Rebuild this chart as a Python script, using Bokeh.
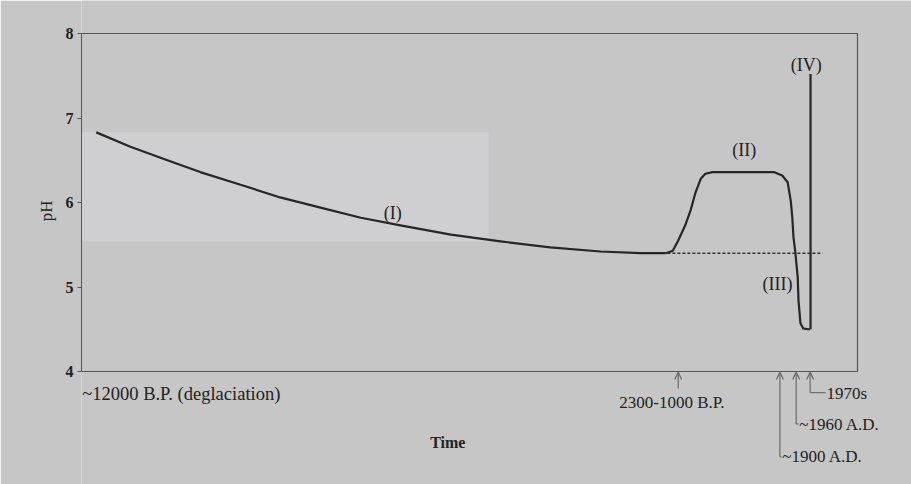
from bokeh.plotting import figure
from bokeh.models import Range1d, Label, Arrow, OpenHead, FixedTicker, LinearAxis
from bokeh.embed import file_html
from bokeh.resources import INLINE

# ---- data (relative time units 0..100, pH) ----
time_I = [1.9, 6.3, 10.8, 15.3, 20.5, 25.6, 30.8, 36.0, 41.1, 47.6, 54.0, 60.4, 66.9, 72.0, 75.3]
ph_I = [6.83, 6.66, 6.51, 6.36, 6.21, 6.06, 5.94, 5.82, 5.73, 5.62, 5.54, 5.47, 5.42, 5.40, 5.40]

time_II = [75.3, 76.2, 76.9, 77.8, 78.5, 79.1, 79.8, 80.4, 81.3, 89.2, 90.3, 91.0, 91.4, 91.6, 91.75, 92.0]
ph_II = [5.40, 5.43, 5.55, 5.73, 5.91, 6.11, 6.28, 6.34, 6.36, 6.36, 6.32, 6.24, 6.02, 5.82, 5.59, 5.40]

time_III = [92.0, 92.3, 92.4, 92.65, 93.0, 93.6, 93.9]
ph_III = [5.40, 5.11, 4.84, 4.57, 4.51, 4.50, 4.50]

time_IV = [93.95, 93.95]
ph_IV = [4.50, 7.52]

baseline_time = [75.5, 95.5]
baseline_ph = [5.40, 5.40]

shade_time = [-5.15, 52.45]
shade_ph = [5.54, 6.83]

frame_time = [0, 100]
frame_ph = [4, 8]
y_ticks = [4, 5, 6, 7, 8]

curve_labels = ["(I)", "(II)", "(III)", "(IV)"]
curve_label_time = [40.1, 85.4, 89.7, 93.4]
curve_label_ph = [5.88, 6.62, 5.04, 7.63]

event_labels = ["2300-1000 B.P.", "~1900 A.D.", "~1960 A.D.", "1970s"]
event_time = [76.9, 90.0, 92.1, 93.9]
event_line_end = [3.80, 2.99, 3.38, 3.75]
event_label_time = [69.3, 90.3, 92.5, 96.0]
event_label_ph = [3.63, 3.00, 3.37, 3.74]

start_label = "~12000 B.P. (deglaciation)"
x_title = "Time"
y_title = "pH"
y_title_ph = 5.9

BG = "#c6c6c6"
FONT = "Liberation Serif"
TXT = "#222222"

p = figure(width=911, height=484, output_backend="svg", toolbar_location=None,
           x_range=Range1d(0, 106.96), y_range=Range1d(2.663, 8.3905),
           min_border_left=81, min_border_right=0, min_border_top=0, min_border_bottom=0)
p.background_fill_color = BG
p.border_fill_color = BG
p.outline_line_color = None
p.grid.visible = False
p.xaxis.visible = False

ya = p.yaxis[0]
ya.bounds = (frame_ph[0], frame_ph[1])
ya.ticker = FixedTicker(ticks=y_ticks)
ya.axis_line_color = "#555555"
ya.major_tick_line_color = "#555555"
ya.major_tick_out = 4
ya.major_tick_in = 0
ya.minor_tick_line_color = None
ya.major_label_text_font = FONT
ya.major_label_text_font_size = "16px"
ya.major_label_text_font_style = "bold"
ya.major_label_text_color = TXT
ya.major_label_standoff = 4

# y title placed at its reference height via a tick-less axis
ta = LinearAxis(ticker=FixedTicker(ticks=[y_title_ph]),
                major_label_overrides={y_title_ph: y_title},
                major_label_orientation="vertical",
                axis_line_color=None, major_tick_line_color=None, minor_tick_line_color=None,
                major_label_text_font=FONT, major_label_text_font_size="17px",
                major_label_text_color=TXT, major_label_standoff=0)
p.add_layout(ta, "left")

# shaded band
p.quad(left=[shade_time[0]], right=[shade_time[1]], bottom=[shade_ph[0]], top=[shade_ph[1]],
       fill_color="#cfcfd2", line_color=None, level="underlay")

# plot box (top, right, bottom)
p.line([frame_time[0], frame_time[1], frame_time[1], frame_time[0]],
       [frame_ph[1], frame_ph[1], frame_ph[0], frame_ph[0]],
       line_color="#555555", line_width=1.2)

LC = "#262626"
for tx, ty in [(time_I, ph_I), (time_II, ph_II), (time_III, ph_III), (time_IV, ph_IV)]:
    p.line(tx, ty, line_color=LC, line_width=2.2, line_join="round")

p.line(baseline_time, baseline_ph, line_color="#333333", line_width=1.5, line_dash="3 2")

for t, x, y in zip(curve_labels, curve_label_time, curve_label_ph):
    p.add_layout(Label(x=x, y=y, text=t, text_font=FONT, text_font_size="18px",
                       text_color=TXT, text_align="center", text_baseline="middle"))

AC = "#6a6a6a"
for i, (t, x, yend, lx, ly) in enumerate(zip(event_labels, event_time, event_line_end,
                                             event_label_time, event_label_ph)):
    p.add_layout(Arrow(x_start=x, y_start=yend, x_end=x, y_end=frame_ph[0] - 0.01,
                       line_color=AC, line_width=1.2,
                       end=OpenHead(size=7, line_color=AC, line_width=1.2)))
    if i > 0:
        p.add_layout(Arrow(x_start=x, y_start=yend, x_end=lx - 0.1, y_end=yend,
                           line_color=AC, line_width=1.2, end=None))
    p.add_layout(Label(x=lx, y=ly, text=t, text_font=FONT, text_font_size="17px",
                       text_color=TXT, text_align="left", text_baseline="middle"))

p.add_layout(Label(x=0.1, y=3.73, text=start_label, text_font=FONT, text_font_size="18.5px",
                   text_color=TXT, text_align="left", text_baseline="middle"))
p.add_layout(Label(x=47.2, y=3.16, text=x_title, text_font=FONT, text_font_size="16px",
                   text_font_style="bold", text_color=TXT,
                   text_align="center", text_baseline="middle"))

open("out.html", "w").write(file_html(p, INLINE))
